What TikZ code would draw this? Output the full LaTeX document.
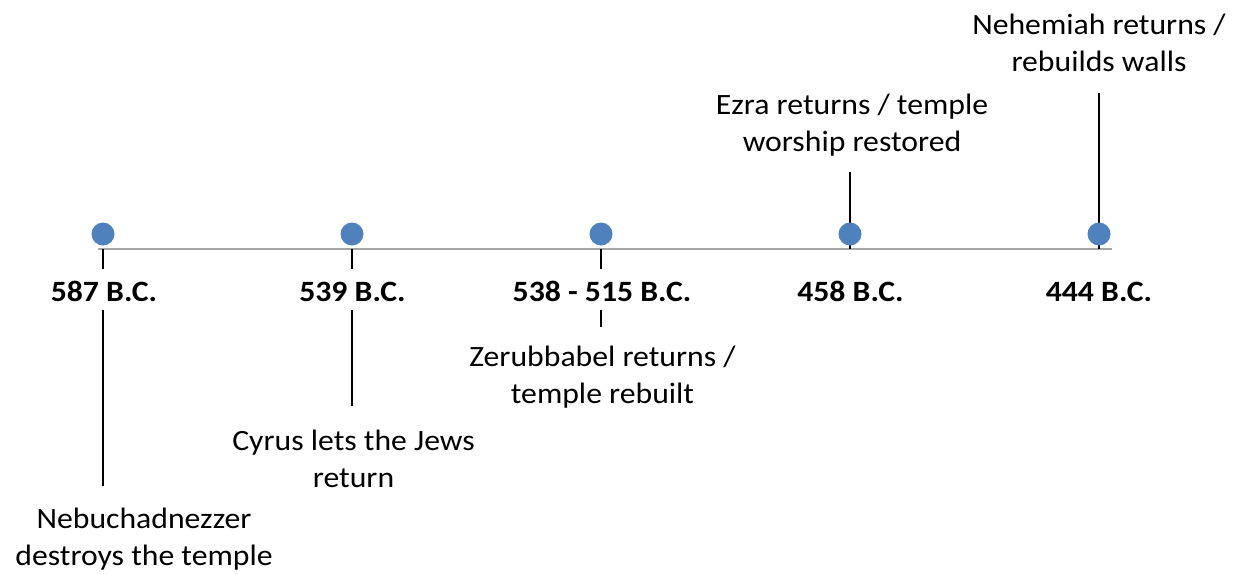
\documentclass[tikz,border=0pt]{standalone}
\usepackage{fontspec}
\setmainfont{Carlito}[FakeStretch=1.075]
\definecolor{dotblue}{RGB}{79,129,189}
\definecolor{axisgray}{RGB}{166,166,166}
\begin{document}
\begin{tikzpicture}[x=1pt,y=-1pt,
  date/.style={font=\fontsize{29.5}{36.5}\selectfont\bfseries, anchor=base, inner sep=0pt},
  evt/.style={font=\fontsize{29.5}{36.5}\selectfont, align=center, anchor=base, inner sep=0pt},
  dot/.style={circle, fill=dotblue, minimum size=23pt, inner sep=0pt},
  leader/.style={black, line width=1.5pt},
  axisline/.style={axisgray, line width=2pt}]
\useasboundingbox (0,0) rectangle (1241,573);
% axis
\coordinate (a0) at (98,249);
\coordinate (a1) at (1112,249);
\draw[axisline] (a0) -- (a1);
% axis points
\coordinate (p1) at (103,249);
\coordinate (p2) at (352,249);
\coordinate (p3) at (601,249);
\coordinate (p4) at (850,249);
\coordinate (p5) at (1099,249);
% date labels
\node[date] (d1) at (104,301) {587 B.C.};
\node[date] (d2) at (352.5,301) {539 B.C.};
\node[date] (d3) at (602,301) {538 - 515 B.C.};
\node[date] (d4) at (850.5,301) {458 B.C.};
\node[date] (d5) at (1099,301) {444 B.C.};
% event labels (anchor = baseline of last line)
\node[evt] (e1) at (144,565) {Nebuchadnezzer\\destroys the temple};
\node[evt] (e2) at (353.5,487) {Cyrus lets the Jews\\return};
\node[evt] (e3) at (602.5,403) {Zerubbabel returns /\\temple rebuilt};
\node[evt] (e4) at (852,151) {Ezra returns / temple\\worship restored};
\node[evt] (e5) at (1099,71) {Nehemiah returns /\\rebuilds walls};
% leader end points
\coordinate (t1a) at (103,269); \coordinate (t1b) at (103,310); \coordinate (t1c) at (103,486);
\coordinate (t2a) at (352,269); \coordinate (t2b) at (352,310); \coordinate (t2c) at (352,406);
\coordinate (t3a) at (601,269); \coordinate (t3b) at (601,310); \coordinate (t3c) at (601,327);
\coordinate (t4) at (850,172);
\coordinate (t5) at (1099,93);
% leaders
\draw[leader] (p1) -- (t1a) (t1b) -- (t1c);
\draw[leader] (p2) -- (t2a) (t2b) -- (t2c);
\draw[leader] (p3) -- (t3a) (t3b) -- (t3c);
\draw[leader] (p4) -- (t4);
\draw[leader] (p5) -- (t5);
% dots
\node[dot] (c1) at (103,234) {};
\node[dot] (c2) at (352,234) {};
\node[dot] (c3) at (601,234) {};
\node[dot] (c4) at (850,234) {};
\node[dot] (c5) at (1099,234) {};
\end{tikzpicture}
\end{document}
